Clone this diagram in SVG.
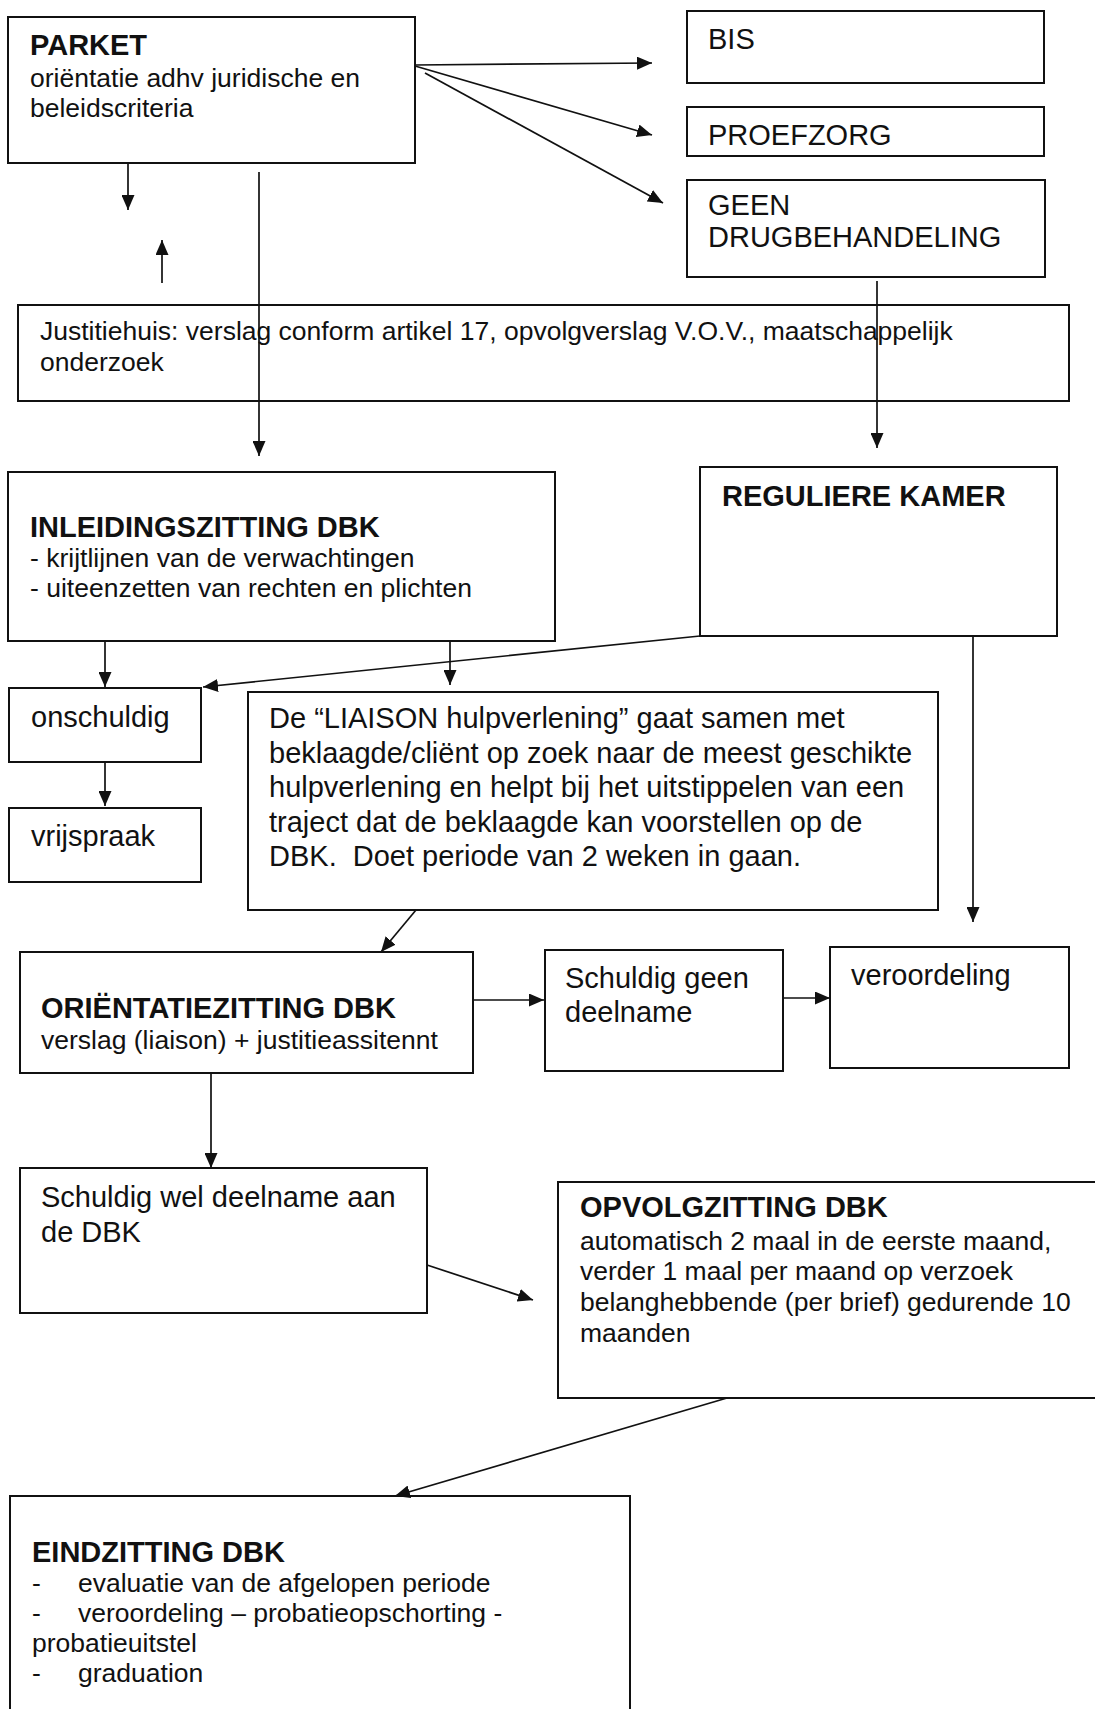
<svg xmlns="http://www.w3.org/2000/svg" width="1095" height="1709" viewBox="0 0 1095 1709">
<style>
  .box { fill: none; stroke: #111; stroke-width: 2; }
  .t { font-family: "Liberation Sans", Arial, sans-serif; fill: #111; }
  .h { font-size: 29px; font-weight: bold; }
  .m { font-size: 29px; }
  .s { font-size: 26.5px; }
  .c { fill: none; stroke: #111; stroke-width: 1.7; marker-end: url(#ah); }
  .pre { white-space: pre; }
</style>
<defs>
  <marker id="ah" markerUnits="userSpaceOnUse" markerWidth="15" markerHeight="13" refX="15" refY="6.5" orient="auto">
    <path d="M0,0 L15,6.5 L0,13 z" fill="#111"/>
  </marker>
</defs>
<rect width="1095" height="1709" fill="#fff"/>

<g id="parket">
  <rect class="box" x="8" y="17" width="407" height="146"/>
  <text class="t h" x="30" y="55">PARKET</text>
  <text class="t s" x="30" y="87">oriëntatie adhv juridische en</text>
  <text class="t s" x="30" y="117">beleidscriteria</text>
</g>
<g id="bis">
  <rect class="box" x="687" y="11" width="357" height="72"/>
  <text class="t m" x="708" y="49">BIS</text>
</g>
<g id="proefzorg">
  <rect class="box" x="687" y="107" width="357" height="49"/>
  <text class="t m" x="708" y="145">PROEFZORG</text>
</g>
<g id="geen">
  <rect class="box" x="687" y="180" width="358" height="97"/>
  <text class="t m" x="708" y="215">GEEN</text>
  <text class="t m" x="708" y="247">DRUGBEHANDELING</text>
</g>
<g id="justitiehuis">
  <rect class="box" x="18" y="305" width="1051" height="96"/>
  <text class="t s" x="40" y="340">Justitiehuis: verslag conform artikel 17, opvolgverslag V.O.V., maatschappelijk</text>
  <text class="t s" x="40" y="371">onderzoek</text>
</g>
<g id="inleiding">
  <rect class="box" x="8" y="472" width="547" height="169"/>
  <text class="t h" x="30" y="537">INLEIDINGSZITTING DBK</text>
  <text class="t s" x="30" y="567">- krijtlijnen van de verwachtingen</text>
  <text class="t s" x="30" y="597">- uiteenzetten van rechten en plichten</text>
</g>
<g id="reguliere">
  <rect class="box" x="700" y="467" width="357" height="169"/>
  <text class="t h" x="722" y="506">REGULIERE KAMER</text>
</g>
<g id="onschuldig">
  <rect class="box" x="9" y="688" width="192" height="74"/>
  <text class="t m" x="31" y="727">onschuldig</text>
</g>
<g id="vrijspraak">
  <rect class="box" x="9" y="808" width="192" height="74"/>
  <text class="t m" x="31" y="846">vrijspraak</text>
</g>
<g id="liaison">
  <rect class="box" x="248" y="692" width="690" height="218"/>
  <text class="t m" x="269" y="728">De “LIAISON hulpverlening” gaat samen met</text>
  <text class="t m" x="269" y="762.5">beklaagde/cliënt op zoek naar de meest geschikte</text>
  <text class="t m" x="269" y="797">hulpverlening en helpt bij het uitstippelen van een</text>
  <text class="t m" x="269" y="831.5">traject dat de beklaagde kan voorstellen op de</text>
  <text class="t m pre" x="269" y="866">DBK.  Doet periode van 2 weken in gaan.</text>
</g>
<g id="orientatie">
  <rect class="box" x="20" y="952" width="453" height="121"/>
  <text class="t h" x="41" y="1018">ORIËNTATIEZITTING DBK</text>
  <text class="t s" x="41" y="1049">verslag (liaison) + justitieassitennt</text>
</g>
<g id="schuldig-geen">
  <rect class="box" x="545" y="950" width="238" height="121"/>
  <text class="t m" x="565" y="988">Schuldig geen</text>
  <text class="t m" x="565" y="1022">deelname</text>
</g>
<g id="veroordeling">
  <rect class="box" x="830" y="947" width="239" height="121"/>
  <text class="t m" x="851" y="985">veroordeling</text>
</g>
<g id="schuldig-wel">
  <rect class="box" x="20" y="1168" width="407" height="145"/>
  <text class="t m" x="41" y="1207">Schuldig wel deelname aan</text>
  <text class="t m" x="41" y="1242">de DBK</text>
</g>
<g id="opvolgzitting">
  <rect class="box" x="558" y="1182" width="560" height="216"/>
  <text class="t h" x="580" y="1217">OPVOLGZITTING DBK</text>
  <text class="t s" x="580" y="1250">automatisch 2 maal in de eerste maand,</text>
  <text class="t s" x="580" y="1280">verder 1 maal per maand op verzoek</text>
  <text class="t s" x="580" y="1311">belanghebbende (per brief) gedurende 10</text>
  <text class="t s" x="580" y="1342">maanden</text>
</g>
<g id="eindzitting">
  <rect class="box" x="10" y="1496" width="620" height="240"/>
  <text class="t h" x="32" y="1562">EINDZITTING DBK</text>
  <text class="t s" x="32" y="1592">-</text>
  <text class="t s" x="78" y="1592">evaluatie van de afgelopen periode</text>
  <text class="t s" x="32" y="1622">-</text>
  <text class="t s" x="78" y="1622">veroordeling – probatieopschorting -</text>
  <text class="t s" x="32" y="1652">probatieuitstel</text>
  <text class="t s" x="32" y="1682">-</text>
  <text class="t s" x="78" y="1682">graduation</text>
</g>

<g id="connectors">
  <line class="c" x1="415" y1="65" x2="652" y2="63"/>
  <line class="c" x1="415" y1="66" x2="652" y2="135"/>
  <line class="c" x1="425" y1="73" x2="663" y2="203"/>
  <line class="c" x1="128" y1="163" x2="128" y2="210"/>
  <line class="c" x1="162" y1="283" x2="162" y2="240"/>
  <line class="c" x1="259" y1="172" x2="259" y2="456"/>
  <line class="c" x1="877" y1="281" x2="877" y2="448"/>
  <line class="c" x1="105" y1="641" x2="105" y2="687"/>
  <line class="c" x1="450" y1="641" x2="450" y2="685"/>
  <line class="c" x1="700" y1="636" x2="203" y2="687"/>
  <line class="c" x1="105" y1="762" x2="105" y2="806"/>
  <line class="c" x1="973" y1="636" x2="973" y2="922"/>
  <line class="c" x1="416" y1="910" x2="381" y2="952"/>
  <line class="c" x1="473" y1="1000" x2="544" y2="1000"/>
  <line class="c" x1="783" y1="998" x2="830" y2="998"/>
  <line class="c" x1="211" y1="1073" x2="211" y2="1168"/>
  <line class="c" x1="427" y1="1265" x2="533" y2="1300"/>
  <line class="c" x1="727" y1="1398" x2="395" y2="1496"/>
</g>
</svg>
